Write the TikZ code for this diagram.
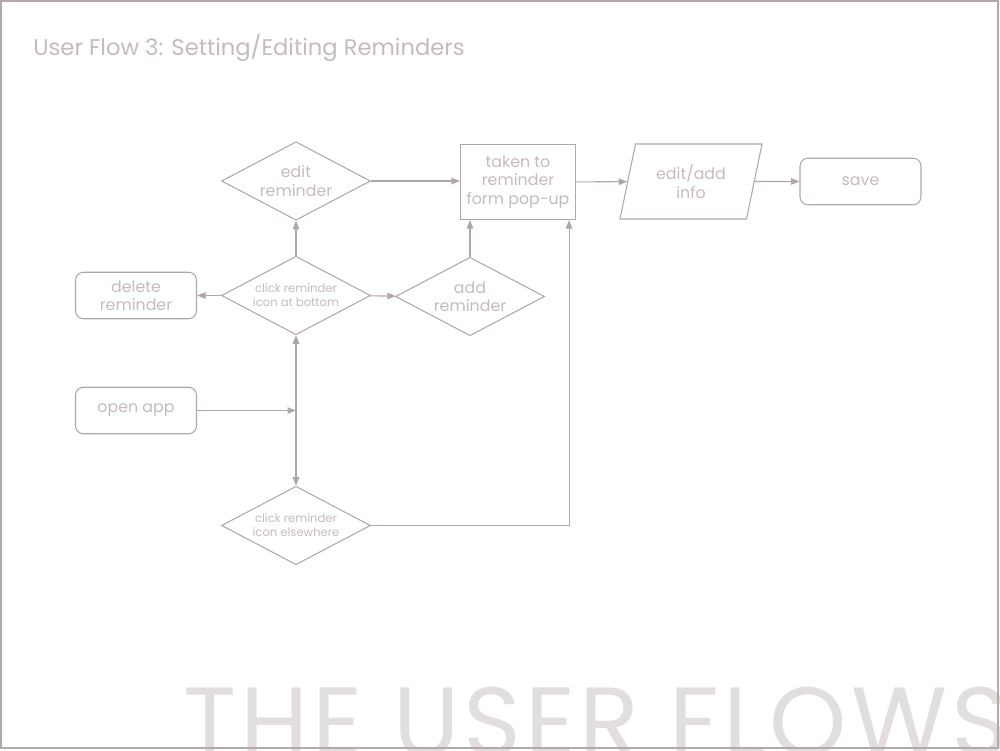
\documentclass[tikz,border=0pt]{standalone}
\usepackage{fontspec}
\setmainfont{Poppins}
\usepackage{tikz}
\usepackage{xcolor}
\usetikzlibrary{arrows.meta,positioning,calc,shapes.geometric}
\definecolor{Frame}{HTML}{B5A8A8}
\definecolor{Wire}{HTML}{B3A6A6}
\definecolor{Label}{HTML}{C6BBBB}
\definecolor{Ghost}{HTML}{E3DEDE}
\begin{document}
\begin{tikzpicture}[
    every node/.style={text=Label, font=\fontsize{9}{10.4}\selectfont, align=center},
    choice/.style={diamond, draw=Wire, line width=0.6pt, inner sep=0pt, aspect=1.9, minimum width=2.98cm, minimum height=1.57cm},
    small/.style={font=\fontsize{6.6}{8}\selectfont},
    pill/.style={draw=Wire, line width=0.6pt, rounded corners=4.5pt, minimum width=2.42cm, minimum height=0.93cm},
    screen/.style={draw=Wire, line width=0.6pt, minimum width=2.3cm, minimum height=1.5cm},
    entry/.style={trapezium, trapezium left angle=71, trapezium right angle=109, trapezium stretches body, draw=Wire, line width=0.6pt, minimum width=2.84cm, minimum height=1.5cm},
    arr/.style={-{Triangle[length=1.7mm, width=1.3mm]}, line width=0.6pt, draw=Wire}
  ]
    \useasboundingbox (0,0) rectangle (20,15);
    \clip (0,0) rectangle (20,15);
    % big watermark and title
    \node[text=Ghost, font=\fontsize{56}{56}\selectfont\addfontfeature{LetterSpace=4}, anchor=base west, inner sep=0pt] (big) at (3.66,-0.12) {THE USER FLOWS};
    \node[font=\fontsize{12.9}{14}\selectfont, anchor=base west, inner sep=0pt] (title) at (0.66,13.88) {User Flow 3: Setting/Editing Reminders};
    \draw[Frame, line width=1.1pt] (0.02,0.04) rectangle (19.96,14.98);
    % nodes
    \node[choice] (edit) at (5.92,11.38) {edit\\reminder};
    \node[choice, small] (click) at (5.92,9.09) {click reminder\\icon at bottom};
    \node[pill] (del) at (2.72,9.09) {delete\\reminder};
    \node[choice] (add) at (9.40,9.07) {add\\reminder};
    \node[screen] (taken) at (10.36,11.36) {taken to\\reminder\\form pop-up};
    \node[entry] (info) at (13.82,11.37) {edit/add\\info};
    \node[pill] (save) at (17.21,11.37) {save};
    \node[pill] (open) at (2.72,6.79) {open app};
    \node[choice, small] (else) at (5.92,4.49) {click reminder\\icon elsewhere};
    \coordinate (hub) at (5.92,6.79);
    % connectors
    \draw[arr] (open) -- (hub);
    \draw[arr] (hub) -- (click);
    \draw[arr] (hub) -- (else);
    \draw[arr] (click) -- (edit);
    \draw[arr] (click) -- (del);
    \draw[arr] (click) -- (add);
    \draw[arr] (edit) -- (edit -| taken.west);
    \draw[arr] (add.north) -- (add.north |- taken.south);
    \draw[arr] (else.east) -| ([xshift=-0.14cm]taken.south east);
    \draw[arr] (taken) -- (info);
    \draw[arr] (info) -- (save);
  \end{tikzpicture}
\end{document}
